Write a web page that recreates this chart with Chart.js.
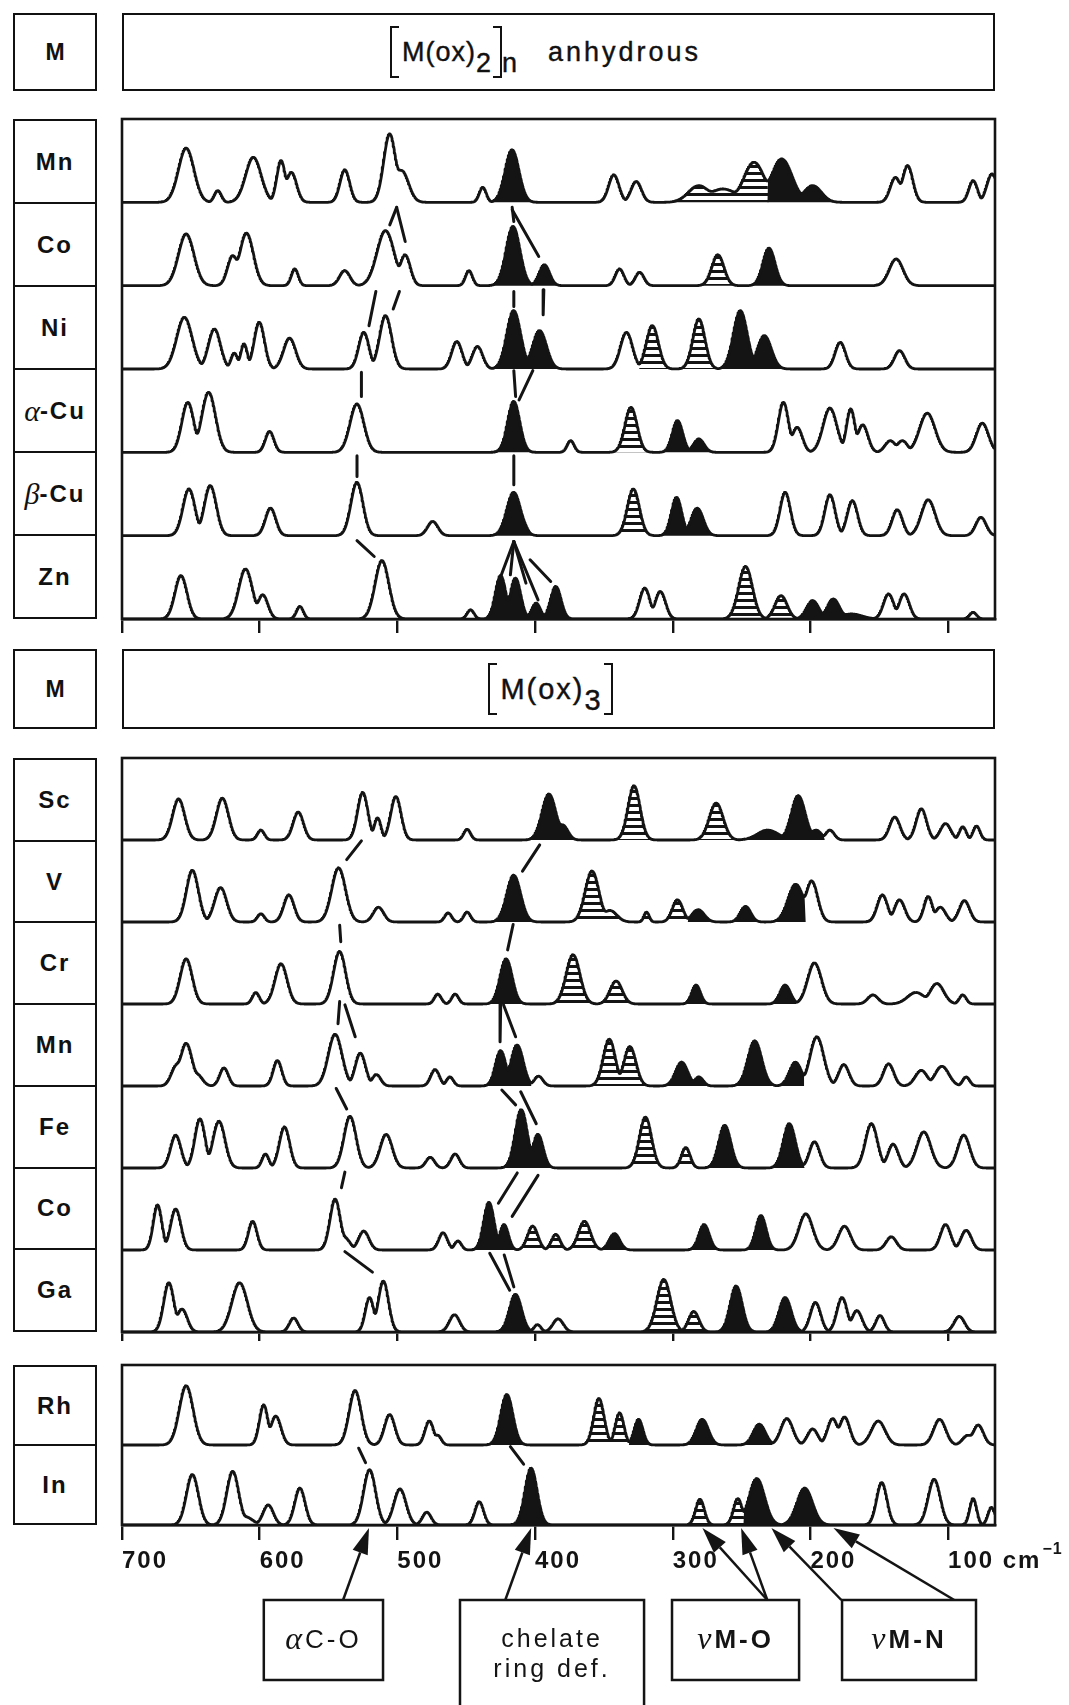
<!DOCTYPE html>
<html>
<head>
<meta charset="utf-8">
<script src="https://cdn.jsdelivr.net/npm/chart.js@4.4.1/dist/chart.umd.min.js"></script>
<style>
html,body{margin:0;padding:0;background:#fff;}
body{width:1069px;height:1705px;position:relative;overflow:hidden;font-family:"Liberation Sans",Arial,sans-serif;color:#111;}
.box{position:absolute;border:2.5px solid #111;box-sizing:border-box;}
.col{display:flex;flex-direction:column;}
.col div{flex:1;display:flex;align-items:center;justify-content:center;font-weight:bold;font-size:24px;letter-spacing:2px;}
.col div+div{border-top:2.5px solid #111;}
.gr{font-family:"Liberation Serif",serif;font-style:italic;font-weight:normal;font-size:30px;letter-spacing:0;}
.head{display:flex;align-items:center;justify-content:center;}
.formula{display:flex;align-items:center;font-family:"Liberation Sans",sans-serif;font-size:27px;letter-spacing:1px;-webkit-text-stroke:0.4px #111;}
.lb,.rb{display:inline-block;width:9px;height:52px;border:2.5px solid #111;box-sizing:border-box;}
.lb{border-right:0;margin-right:3px;}
.rb{border-left:0;margin-left:1px;}
.sub{transform:translateY(11px);}
.word{margin-left:30px;letter-spacing:3px;}
canvas{position:absolute;left:0;}
</style>
</head>
<body>
<div class="box head" style="left:13px;top:13px;width:84px;height:78px;font-weight:bold;font-size:23px;">M</div>
<div class="box head" style="left:122px;top:13px;width:873px;height:78px;">
  <div class="formula" style="margin-left:-26px"><span class="lb"></span><span>M(ox)</span><span class="sub">2</span><span class="rb"></span><span class="sub">n</span><span class="word">anhydrous</span></div>
</div>
<div class="box head" style="left:13px;top:649px;width:84px;height:80px;font-weight:bold;font-size:23px;">M</div>
<div class="box head" style="left:122px;top:649px;width:873px;height:80px;">
  <div class="formula" style="margin-left:-16px;font-size:29px;letter-spacing:2px"><span class="lb"></span><span>M(ox)</span><span class="sub">3</span><span class="rb"></span></div>
</div>
<div id="lab1" class="box col" style="left:13px;top:119px;width:84px;height:500px;"></div>
<div id="lab2" class="box col" style="left:13px;top:758px;width:84px;height:574px;"></div>
<div id="lab3" class="box col" style="left:13px;top:1365px;width:84px;height:160px;"></div>
<canvas id="g1" width="1069" height="540" style="top:109px"></canvas>
<canvas id="g2" width="1069" height="604" style="top:748px"></canvas>
<canvas id="g3" width="1069" height="350" style="top:1355px"></canvas>
<script>
// wavenumber axis (cm-1), left edge is 700
const X_MIN = 65.9, X_MAX = 700;
const TICKS = [700, 600, 500, 400, 300, 200, 100];

// row labels
const labels1 = ['Mn', 'Co', 'Ni', 'α-Cu', 'β-Cu', 'Zn'];
const labels2 = ['Sc', 'V', 'Cr', 'Mn', 'Fe', 'Co', 'Ga'];
const labels3 = ['Rh', 'In'];

// bands: [position cm-1, height (fraction of row), width cm-1, kind 0 open / 1 black / 2 hatched]
const mnOx2 = [[653.3,0.65,4.5,0],[630.3,0.14,2,0],[604.5,0.54,4.5,0],[584.4,0.50,2.5,0],[576.9,0.36,3,0],
  [538.1,0.39,2.8,0],[505.5,0.82,3.5,0],[496.8,0.38,4,0],[437.9,0.18,2,0],[416.6,0.63,4,1],
  [342.7,0.33,3,0],[326.4,0.25,3,0],[280.9,0.20,6,2],[263.3,0.16,8,2],[240.8,0.48,6,2],
  [220.7,0.52,6,1],[198.2,0.20,5,1],[138.1,0.30,3,0],[129.3,0.44,3,0],[81.7,0.26,2.5,0],[68.0,0.34,3,0]];
const coOx2 = [[653.3,0.62,4.5,0],[619.5,0.36,3,0],[609.5,0.63,4,0],[574.4,0.20,2,0],[538.1,0.18,3,0],
  [508.5,0.66,5,0],[494.3,0.37,3,0],[447.9,0.18,2,0],[415.9,0.71,4,1],[393.1,0.25,3,1],
  [338.5,0.20,2.5,0],[323.9,0.16,2.5,0],[267.1,0.37,3.5,2],[230.0,0.45,3.5,1],[137.6,0.32,4,0]];
const niOx2 = [[654.6,0.62,4.5,0],[632.8,0.48,3.5,0],[618.3,0.19,2,0],[611.3,0.30,2,0],[600.2,0.56,3,0],
  [578.2,0.37,3.5,0],[524.3,0.44,3,0],[508.5,0.64,3.5,0],[456.7,0.33,3,0],[441.7,0.27,3,0],
  [415.4,0.70,4,1],[396.6,0.46,4,1],[333.5,0.44,3.5,0],[314.7,0.52,3.5,2],[280.9,0.60,3.5,2],
  [250.8,0.70,4,1],[233.3,0.40,4,1],[178.2,0.32,3,0],[135.1,0.22,3,0]];
const aCuOx2 = [[652.1,0.60,3.5,0],[637.0,0.72,4,0],[592.7,0.25,2.5,0],[529.3,0.58,4,0],[415.4,0.61,3.5,1],
  [374.0,0.14,2,0],[330.2,0.54,3.5,2],[296.4,0.38,3,1],[280.9,0.16,3,1],[219.5,0.60,3,0],
  [209.5,0.30,3,0],[185.7,0.53,4,0],[170.6,0.52,2.5,0],[161.9,0.33,3,0],[141.8,0.14,3,0],
  [133.1,0.14,3,0],[115.0,0.47,4.5,0],[75.0,0.35,3.5,0]];
const bCuOx2 = [[651.3,0.56,3.5,0],[635.8,0.60,3.5,0],[592.0,0.33,3,0],[529.3,0.64,3.5,0],[474.2,0.17,3,0],
  [415.4,0.52,4,1],[408.0,0.10,2,1],[328.5,0.56,3.5,2],[297.1,0.46,3,1],[282.1,0.33,3.5,1],
  [218.2,0.52,3,0],[185.7,0.49,3,0],[169.4,0.42,3,0],[136.8,0.31,3,0],[114.3,0.43,4,0],[76.0,0.22,3,0]];
const znOx2 = [[657.1,0.52,3.5,0],[610.2,0.60,4,0],[597.7,0.29,3,0],[570.7,0.15,2,0],[511.1,0.70,4,0],
  [446.7,0.11,2,0],[424.9,0.52,3,1],[414.1,0.49,3,1],[399.1,0.19,2.5,1],[384.8,0.39,3,1],
  [320.2,0.37,3,0],[308.9,0.33,3,0],[247.0,0.63,4,2],[221.2,0.28,3.5,2],[198.2,0.22,3.5,1],
  [183.2,0.24,3.5,1],[170.0,0.06,6,1],[143.1,0.30,3,0],[131.8,0.30,3,0],[81.7,0.08,2,0]];

const scOx3 = [[658.8,0.50,3.5,0],[627.0,0.51,3.5,0],[599.0,0.12,2,0],[571.9,0.34,3,0],[525.1,0.58,3,0],
  [514.3,0.27,2,0],[501.0,0.53,3,0],[449.2,0.13,2,0],[389.8,0.56,4,1],[379.8,0.18,3,1],
  [328.0,0.66,3.5,2],[268.3,0.45,4,2],[230.8,0.12,6,1],[208.7,0.54,4,1],[195.7,0.12,3,1],
  [185.7,0.12,2.5,0],[138.6,0.28,3,0],[119.3,0.38,3,0],[101.7,0.20,3,0],[89.2,0.16,2,0],[79.2,0.17,2,0]];
const vOx3 = [[648.8,0.63,3.5,0],[628.3,0.42,3.5,0],[599.0,0.10,2,0],[578.7,0.33,3,0],[542.6,0.66,4,0],
  [513.6,0.18,3,0],[463.0,0.11,2,0],[449.2,0.12,2,0],[415.4,0.57,4,1],[358.5,0.62,4,2],
  [345.5,0.14,4,2],[318.9,0.12,1.5,2],[296.4,0.27,3,2],[281.4,0.15,3.5,1],[247.0,0.19,3,1],
  [210.5,0.46,4.5,1],[199.0,0.50,3.5,0],[147.6,0.33,3,0],[135.1,0.27,3,0],[114.3,0.31,2.5,0],
  [105.5,0.18,3,0],[88.0,0.26,3,0]];
const crOx3 = [[653.3,0.55,3.5,0],[602.7,0.14,2,0],[584.4,0.49,3.5,0],[541.9,0.64,3.5,0],[470.5,0.12,2,0],
  [457.9,0.12,2,0],[420.9,0.55,3.5,1],[372.3,0.60,4,2],[341.0,0.28,3.5,2],[282.9,0.23,2.5,1],
  [218.2,0.23,3,1],[196.9,0.50,4,0],[154.4,0.11,3,0],[123.1,0.14,5,0],[108.0,0.25,4,0],[89.2,0.11,2,0]];
const mnOx3 = [[660.3,0.25,3,0],[653.3,0.52,3.5,0],[645.3,0.14,3,0],[625.8,0.22,2.5,0],[587.0,0.31,2.5,0],
  [545.1,0.63,4,0],[526.8,0.40,3,0],[515.1,0.14,2.5,0],[472.5,0.20,2.5,0],[461.7,0.11,2,0],
  [424.9,0.43,3,1],[412.9,0.50,3.5,1],[397.3,0.12,2.5,0],[346.0,0.57,3.5,2],[331.0,0.48,3.5,2],
  [293.4,0.29,3.5,1],[280.9,0.11,2.5,1],[240.3,0.55,4,1],[210.7,0.29,3.5,1],[195.2,0.60,4,0],
  [175.6,0.26,3,0],[143.1,0.27,3,0],[119.3,0.19,3.5,0],[104.3,0.24,4,0],[86.7,0.11,2,0]];
const feOx3 = [[660.9,0.40,3,0],[643.3,0.60,3,0],[629.5,0.57,3.5,0],[595.7,0.17,2,0],[581.9,0.50,3,0],
  [534.3,0.63,3.5,0],[508.0,0.41,3.5,0],[476.0,0.13,2.5,0],[457.9,0.17,2.5,0],[409.9,0.71,3.5,1],
  [397.8,0.41,3,1],[319.7,0.62,3.5,2],[290.4,0.25,2.5,2],[262.1,0.52,3.5,1],[215.2,0.54,3.5,1],
  [196.9,0.32,3,0],[155.6,0.54,3.5,0],[139.8,0.29,3,0],[117.5,0.44,4,0],[88.5,0.40,3.5,0]];
const coOx3 = [[674.1,0.55,2.5,0],[660.9,0.50,3,0],[605.0,0.35,2.5,0],[545.1,0.62,3,0],[538.1,0.15,3,0],
  [524.3,0.23,3,0],[466.7,0.21,2.5,0],[455.9,0.11,2,0],[433.4,0.58,3,1],[422.4,0.31,2.5,1],
  [401.6,0.29,3,2],[384.8,0.19,2.5,2],[364.0,0.35,3.5,2],[342.2,0.20,3,1],[277.1,0.31,3,1],
  [235.8,0.42,3,1],[203.2,0.44,4,0],[175.1,0.29,3.5,0],[141.1,0.16,3,0],[101.7,0.31,3,0],[86.7,0.24,3,0]];
const gaOx3 = [[665.9,0.60,3,0],[656.3,0.28,3,0],[614.5,0.60,4.5,0],[575.2,0.17,2.5,0],[520.1,0.42,2.5,0],
  [510.1,0.62,3,0],[458.4,0.21,3,0],[414.1,0.46,3.5,1],[398.1,0.09,2,0],[383.1,0.16,3,0],
  [306.4,0.64,4,2],[284.6,0.25,3,2],[253.8,0.56,3.5,1],[218.2,0.42,3.5,1],[196.2,0.36,3,0],
  [176.9,0.42,3,0],[166.1,0.26,3,0],[149.3,0.20,2.5,0],[91.7,0.19,3,0]];

const rhOx3 = [[653.3,0.74,4,0],[597.0,0.50,2.5,0],[588.2,0.36,3,0],[530.6,0.68,3.5,0],[505.5,0.38,3,0],
  [476.7,0.30,2.5,0],[470.5,0.12,2,0],[420.4,0.63,3.5,1],[353.5,0.58,3,2],[338.5,0.40,2.5,2],
  [324.7,0.32,2.5,1],[278.4,0.32,3.5,1],[237.0,0.26,3.5,1],[217.0,0.33,3.5,0],[198.2,0.20,3,0],
  [183.7,0.33,3,0],[175.1,0.35,3,0],[150.6,0.30,4,0],[106.0,0.32,3.5,0],[85.5,0.12,3,0],[78.0,0.25,3,0]];
const inOx3 = [[648.8,0.63,3.5,0],[619.5,0.67,3.5,0],[610.0,0.10,4,0],[593.7,0.25,3,0],[570.7,0.46,3,0],
  [520.1,0.69,3.5,0],[498.0,0.45,3.5,0],[478.5,0.16,2.5,0],[440.4,0.29,2.5,0],[402.8,0.71,3.5,1],
  [280.1,0.32,2.5,2],[252.6,0.33,2.5,2],[238.8,0.58,4.5,1],[204.0,0.46,4.5,1],[148.1,0.53,3,0],
  [110.0,0.57,3.5,0],[81.7,0.33,2,0],[68.4,0.22,2,0]];

// correlation lines between rows: [x1, y1, x2, y2] in (cm-1, row units)
const links1 = [[500.5,4.94,494.3,4.53],[500.5,4.94,505.5,4.73],[515.6,3.93,520.6,3.52],[498.5,3.93,503.0,3.72],
  [416.6,4.94,415.4,4.77],[416.6,4.91,397.3,4.35],[415.4,3.93,415.4,3.75],[393.6,3.95,394.1,3.65],
  [526.1,2.96,526.1,2.67],[415.4,2.98,414.1,2.67],[401.6,2.98,411.6,2.63],
  [529.3,1.96,529.3,1.71],[415.4,1.96,415.4,1.61],[529.3,0.94,516.8,0.75],
  [415.4,0.93,425.4,0.49],[415.4,0.93,417.9,0.53],[415.4,0.93,406.6,0.43],[415.4,0.93,397.8,0.23],[403.6,0.71,388.6,0.45]];
const links2 = [[526.1,5.99,536.8,5.76],[396.6,5.94,409.1,5.62],[541.9,4.96,541.1,4.76],[415.9,4.97,419.9,4.66],
  [541.9,4.03,543.1,3.76],[538.1,3.99,530.6,3.60],[424.9,4.01,425.4,3.54],[422.9,3.99,414.1,3.60],
  [544.4,2.97,536.8,2.72],[424.1,2.95,414.1,2.77],[410.4,2.93,399.1,2.54],
  [538.1,1.95,540.6,1.76],[412.9,1.94,426.6,1.57],[397.8,1.91,416.6,1.41],
  [538.1,0.98,518.1,0.73],[432.9,0.96,418.4,0.51],[422.4,0.94,415.4,0.55]];
const links3 = [[528.1,0.96,523.1,0.78],[417.9,0.98,408.3,0.76]];

// assignment boxes below the axis (cm-1 span) and their arrows (tip / tail in cm-1)
const noteLabels = ['αC-O', 'chelate|ring def.', 'νM-O', 'νM-N'];
const noteSpans = [[597, 510.4], [454.5, 320.8], [300.5, 208.2], [177, 79.7]];
const arrowTips = [520.6, 402.8, 278.4, 250.3, 228.3, 183.2];
const arrowTails = [539.4, 421.6, 231.3, 231.3, 177.5, 95.5];

const INK = '#141414';
const STEPS = 1600;
const SPREAD = 1.25;   // band shape: gaussian width factor
const NORM = 3;        // overlapping bands combine as a soft maximum

function hatchPattern(){
  const c = document.createElement('canvas');
  c.width = 8; c.height = 7;
  const g = c.getContext('2d');
  g.fillStyle = '#fff'; g.fillRect(0, 0, 8, 7);
  g.fillStyle = INK; g.fillRect(0, 0, 8, 3);
  return g.createPattern(c, 'repeat');
}
const HATCH = hatchPattern();

function fillLabels(id, names){
  const el = document.getElementById(id);
  names.forEach(n => {
    const d = document.createElement('div');
    d.innerHTML = n.replace(/^([αβ])/, '<span class="gr">$1</span>');
    el.appendChild(d);
  });
}
fillLabels('lab1', labels1);
fillLabels('lab2', labels2);
fillLabels('lab3', labels3);

function buildRows(rows, links){
  const n = rows.length, ds = [];
  rows.forEach((peaks, r) => {
    const base = n - 1 - r;
    const line = [], black = [], hatch = [];
    for (let i = 0; i <= STEPS; i++) {
      const x = X_MIN + (X_MAX - X_MIN) * i / STEPS;
      let acc = 0, top = 0, kind = 0;
      for (const [c, h, w, t] of peaks) {
        const v = h * Math.exp(-0.5 * ((x - c) / (w * SPREAD)) ** 2);
        acc += v ** NORM;
        if (v > top) { top = v; kind = t; }
      }
      const y = base + acc ** (1 / NORM);
      line.push({x, y});
      black.push({x, y: kind === 1 ? y : base});
      hatch.push({x, y: kind === 2 ? y : base});
    }
    ds.push({data: line, borderColor: INK, borderWidth: 2.8, fill: false, order: 0});
    ds.push({data: black, borderColor: 'rgba(0,0,0,0)', borderWidth: 0, backgroundColor: INK, fill: {value: base}, order: 2});
    ds.push({data: hatch, borderColor: 'rgba(0,0,0,0)', borderWidth: 0, backgroundColor: HATCH, fill: {value: base}, order: 2});
  });
  links.forEach(([x1, y1, x2, y2]) => {
    ds.push({data: [{x: x1, y: y1}, {x: x2, y: y2}], borderColor: INK, borderWidth: 3, fill: false, order: 0});
  });
  return ds;
}

const frame = {
  id: 'frame',
  afterDatasetsDraw(chart){
    const {ctx, chartArea: a} = chart;
    ctx.save();
    ctx.strokeStyle = INK; ctx.lineWidth = 2.6;
    ctx.strokeRect(a.left, a.top, a.right - a.left, a.bottom - a.top);
    ctx.restore();
  }
};

function drawLabel(ctx, text, cx, cy){
  const greek = /^[αν]/.test(text);
  const parts = greek
    ? [[text[0], 'italic 32px "Liberation Serif"'], [text.slice(1), (text[0] === 'ν' ? 'bold ' : '') + '26px "Liberation Sans"']]
    : [[text, '25px "Liberation Sans"']];
  ctx.textBaseline = 'middle'; ctx.textAlign = 'left';
  ctx.letterSpacing = '3px';
  let w = 0;
  parts.forEach(([t, f]) => { ctx.font = f; w += ctx.measureText(t).width; });
  let x0 = cx - w / 2;
  parts.forEach(([t, f]) => { ctx.font = f; ctx.fillText(t, x0, cy); x0 += ctx.measureText(t).width; });
}

const TICK3 = 15, PAD3 = 7;
const notes = {
  id: 'notes',
  beforeDraw(chart){ chart.ctx.letterSpacing = '2px'; },
  afterDraw(chart){
    const {ctx, chartArea: a, scales: {x}} = chart;
    ctx.save();
    ctx.strokeStyle = INK; ctx.fillStyle = INK; ctx.lineWidth = 2.5;
    const top = a.bottom + 75, h = 80;
    noteSpans.forEach(([from, to], i) => {
      const l = x.getPixelForValue(from), r = x.getPixelForValue(to);
      const lines = noteLabels[i].split('|');
      ctx.beginPath();
      if (lines.length > 1) {
        ctx.moveTo(l, chart.height + 2); ctx.lineTo(l, top); ctx.lineTo(r, top); ctx.lineTo(r, chart.height + 2);
      } else {
        ctx.rect(l, top, r - l, h);
      }
      ctx.stroke();
      lines.forEach((t, k) => drawLabel(ctx, t, (l + r) / 2, top + (lines.length > 1 ? 40 + k * 30 : h / 2 + 1)));
    });
    arrowTips.forEach((tip, i) => {
      const tx = x.getPixelForValue(tip), ty = a.bottom + 3;
      const sx = x.getPixelForValue(arrowTails[i]), sy = top;
      const ang = Math.atan2(ty - sy, tx - sx);
      const L = 26, W = 8;
      const bx = tx - L * Math.cos(ang), by = ty - L * Math.sin(ang);
      ctx.beginPath(); ctx.moveTo(sx, sy); ctx.lineTo(bx, by); ctx.stroke();
      ctx.beginPath();
      ctx.moveTo(tx, ty);
      ctx.lineTo(bx + W * Math.sin(ang), by - W * Math.cos(ang));
      ctx.lineTo(bx - W * Math.sin(ang), by + W * Math.cos(ang));
      ctx.closePath(); ctx.fill();
    });
    // cm-1 exponent after the last tick label
    const mid = a.bottom + TICK3 + PAD3 + 14.4;
    ctx.font = 'bold 24px "Liberation Sans"'; ctx.letterSpacing = '2px';
    const w = ctx.measureText('100 cm').width;
    ctx.font = 'bold 16px "Liberation Sans"'; ctx.letterSpacing = '1px';
    ctx.textBaseline = 'middle'; ctx.textAlign = 'left';
    ctx.fillText('−1', x.getPixelForValue(100) + w + 1, mid - 12);
    ctx.restore();
  }
};

function makeChart(id, rows, links, o){
  return new Chart(document.getElementById(id), {
    type: 'line',
    data: {datasets: buildRows(rows, links)},
    options: {
      responsive: false, animation: false, devicePixelRatio: 1, events: [],
      layout: {padding: {left: 122, right: 74, top: 10, bottom: o.padBottom}},
      elements: {point: {radius: 0}, line: {tension: 0, borderJoinStyle: 'round', borderCapStyle: 'round'}},
      plugins: {legend: {display: false}, tooltip: {enabled: false}},
      scales: {
        x: {
          type: 'linear', reverse: true, min: X_MIN, max: X_MAX,
          afterBuildTicks: s => { s.ticks = TICKS.map(v => ({value: v})); },
          afterFit: s => { s.height = o.axisHeight; },
          border: {display: true, color: INK, width: 2.6},
          grid: {drawOnChartArea: false, drawTicks: true, tickLength: o.tick, color: INK, lineWidth: 2.4},
          ticks: {
            display: o.labels, align: 'start', padding: PAD3, color: INK, autoSkip: false, maxRotation: 0,
            font: {family: 'Liberation Sans', size: 24, weight: 'bold'},
            callback: v => v === 100 ? '100 cm' : String(v)
          }
        },
        y: {display: false, min: 0, max: rows.length}
      }
    },
    plugins: o.labels ? [frame, notes] : [frame]
  });
}

makeChart('g1', [mnOx2, coOx2, niOx2, aCuOx2, bCuOx2, znOx2], links1, {padBottom: 10, axisHeight: 20, tick: 14, labels: false});
makeChart('g2', [scOx3, vOx3, crOx3, mnOx3, feOx3, coOx3, gaOx3], links2, {padBottom: 5, axisHeight: 15, tick: 9, labels: false});
makeChart('g3', [rhOx3, inOx3], links3, {padBottom: 130, axisHeight: 50, tick: TICK3, labels: true});
</script>
</body>
</html>
